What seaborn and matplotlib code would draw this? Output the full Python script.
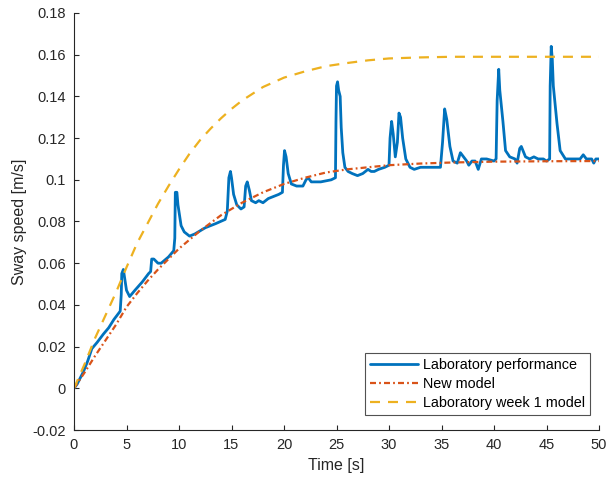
import matplotlib
matplotlib.use("Agg")
import matplotlib.pyplot as plt
import seaborn as sns
import numpy as np

# ---- data ----
t_lab = [0.0, 0.3, 0.9, 1.3, 1.7, 2.2, 2.8, 3.3, 3.8, 4.4, 4.5, 4.55, 4.7, 4.85, 5.0, 5.3, 5.8, 6.5, 7.1, 7.3,
         7.4, 7.6, 8.0, 8.3, 9.0, 9.5, 9.6, 9.65, 9.8, 9.9, 10.2, 10.5, 11.0, 11.5, 12.5, 13.5, 14.4, 14.6, 14.75, 14.9,
         15.0, 15.2, 15.5, 15.9, 16.2, 16.35, 16.5, 16.7, 16.9, 17.3, 17.6, 18.0, 18.5, 19.5, 19.85, 19.95, 20.05, 20.2, 20.4, 20.7,
         21.2, 21.8, 22.1, 22.3, 22.6, 23.5, 24.5, 24.9, 24.95, 25.0, 25.1, 25.2, 25.35, 25.45, 25.6, 25.8, 26.1, 26.5, 27.0, 27.5,
         28.0, 28.3, 28.6, 29.0, 29.6, 30.0, 30.1, 30.25, 30.4, 30.6, 30.8, 30.95, 31.1, 31.3, 31.6, 32.0, 32.4, 33.0, 34.0, 34.9,
         35.1, 35.3, 35.5, 35.8, 36.1, 36.5, 36.8, 37.1, 37.4, 37.6, 37.9, 38.2, 38.5, 38.8, 39.3, 40.0, 40.2, 40.3, 40.45, 40.55,
         40.65, 40.85, 41.1, 41.5, 42.0, 42.2, 42.45, 42.6, 43.0, 43.4, 43.8, 44.2, 44.7, 45.0, 45.3, 45.35, 45.45, 45.55, 45.65, 45.85,
         46.0, 46.3, 46.8, 47.5, 48.2, 48.5, 48.8, 49.3, 49.5, 49.7, 50.0]
v_lab = [0.000, 0.002, 0.008, 0.013, 0.019, 0.022, 0.026, 0.029, 0.033, 0.037, 0.045, 0.055, 0.057, 0.052, 0.047, 0.044, 0.047, 0.051, 0.055, 0.056,
         0.062, 0.062, 0.060, 0.060, 0.063, 0.066, 0.072, 0.094, 0.094, 0.088, 0.078, 0.075, 0.073, 0.074, 0.077, 0.079, 0.081, 0.085, 0.101, 0.104,
         0.101, 0.093, 0.088, 0.086, 0.087, 0.097, 0.099, 0.095, 0.090, 0.089, 0.090, 0.089, 0.091, 0.093, 0.094, 0.107, 0.114, 0.111, 0.103, 0.098,
         0.097, 0.097, 0.100, 0.101, 0.099, 0.099, 0.100, 0.101, 0.128, 0.145, 0.147, 0.143, 0.140, 0.125, 0.113, 0.106, 0.104, 0.103, 0.102, 0.103,
         0.105, 0.104, 0.104, 0.105, 0.106, 0.107, 0.120, 0.128, 0.122, 0.111, 0.118, 0.132, 0.130, 0.120, 0.110, 0.106, 0.105, 0.106, 0.106, 0.106,
         0.118, 0.134, 0.129, 0.116, 0.109, 0.108, 0.113, 0.111, 0.109, 0.107, 0.109, 0.109, 0.105, 0.110, 0.110, 0.109, 0.110, 0.138, 0.153, 0.143,
         0.138, 0.128, 0.114, 0.111, 0.110, 0.108, 0.115, 0.116, 0.111, 0.110, 0.111, 0.110, 0.110, 0.109, 0.110, 0.145, 0.164, 0.158, 0.145, 0.135,
         0.127, 0.114, 0.110, 0.110, 0.110, 0.112, 0.110, 0.110, 0.108, 0.110, 0.110]

t_new = [0, 1, 2, 3, 4, 5, 6, 7, 8, 9, 10, 12, 14, 16, 18, 20, 22, 24, 26, 28, 30, 33, 36, 40, 45, 50]
v_new = [0.0, 0.0075, 0.0155, 0.023, 0.0305, 0.039, 0.0455, 0.0515, 0.057, 0.062, 0.067, 0.0755, 0.083, 0.089,
         0.094, 0.098, 0.101, 0.1035, 0.105, 0.106, 0.107, 0.1078, 0.1083, 0.1087, 0.1089, 0.109]

t_wk1 = [0, 1, 2, 3, 4, 5, 6, 7, 8, 9, 10, 11, 12, 13, 14, 15, 16, 18, 20, 22, 24, 26, 28, 30, 33, 36, 40, 45, 50]
v_wk1 = [0.0, 0.0115, 0.024, 0.035, 0.046, 0.058, 0.0695, 0.079, 0.0885, 0.097, 0.105, 0.1125, 0.119, 0.1245,
         0.1295, 0.134, 0.138, 0.1445, 0.149, 0.152, 0.1545, 0.156, 0.1573, 0.1582, 0.1587, 0.159, 0.159, 0.159, 0.159]

labels = ["Laboratory performance", "New model", "Laboratory week 1 model"]
xticks = [0, 5, 10, 15, 20, 25, 30, 35, 40, 45, 50]
yticks = [-0.02, 0, 0.02, 0.04, 0.06, 0.08, 0.1, 0.12, 0.14, 0.16, 0.18]
ytick_labels = ["-0.02", "0", "0.02", "0.04", "0.06", "0.08", "0.1", "0.12", "0.14", "0.16", "0.18"]

# ---- style ----
sns.set_style("ticks")
plt.rcParams['font.family'] = ['Liberation Sans', 'DejaVu Sans']
axc = "#262626"

fig = plt.figure(figsize=(6.1, 4.86), dpi=100)
ax = fig.add_axes([74/610, 1-430/486, 525/610, 417/486])

sns.lineplot(x=t_lab, y=v_lab, ax=ax, estimator=None, sort=False, color="#0072BD",
             linewidth=2.0, label=labels[0])
sns.lineplot(x=t_new, y=v_new, ax=ax, estimator=None, sort=False, color="#D95319",
             linewidth=1.6, label=labels[1])
sns.lineplot(x=t_wk1, y=v_wk1, ax=ax, estimator=None, sort=False, color="#EDB120",
             linewidth=1.6, label=labels[2])
lines = ax.get_lines()
lines[1].set_linestyle((0, (2.7, 1.4, 0.8, 1.4)))
lines[2].set_linestyle((0, (4.5, 3.6)))

ax.set_xlim(0, 50)
ax.set_ylim(-0.02, 0.18)
ax.set_xticks(xticks)
ax.set_xticklabels([str(x) for x in xticks])
ax.set_yticks(yticks)
ax.set_yticklabels(ytick_labels)
ax.tick_params(direction="in", length=3.6, width=0.8, colors=axc, labelsize=10.5, pad=6)
for s in ["top", "right"]:
    ax.spines[s].set_visible(False)
for s in ["left", "bottom"]:
    ax.spines[s].set_color(axc)
    ax.spines[s].set_linewidth(0.8)

ax.set_xlabel("Time [s]", fontsize=11.5, color=axc, labelpad=4)
ax.set_ylabel("Sway speed [m/s]", fontsize=11.5, color=axc, labelpad=4)

leg = ax.legend(loc="lower right", bbox_to_anchor=(0.983, 0.036), borderaxespad=0,
                fontsize=10.4, frameon=True, fancybox=False, edgecolor=axc,
                handlelength=3.3, handletextpad=0.35, labelspacing=0.35, borderpad=0.35)
leg.get_frame().set_linewidth(0.8)
for txt in leg.get_texts():
    txt.set_color("black")

fig.savefig("out.png", dpi=100, facecolor="white")
